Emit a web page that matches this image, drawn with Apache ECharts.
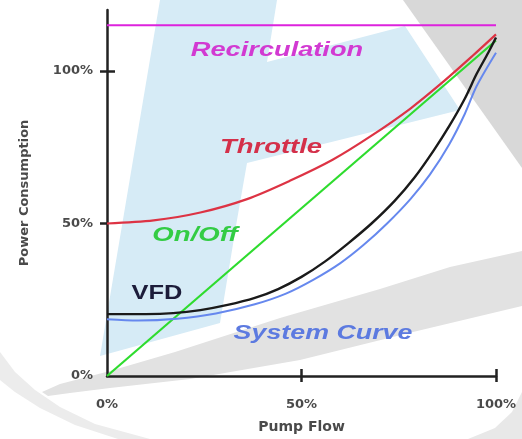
<!DOCTYPE html>
<html>
<head>
<meta charset="utf-8">
<script src="https://cdn.jsdelivr.net/npm/echarts@6/dist/echarts.min.js"></script>
<style>
html,body{margin:0;padding:0;background:#fff;}
#chart{width:522px;height:439px;}
</style>
</head>
<body>
<div id="chart"></div>
<script>
// ---- data (percent pump flow, percent power consumption) ----
const recirculation = [[0, 115], [100, 115]];
const throttle = [[0, 50], [12, 51], [24, 53.6], [36, 58], [47, 64], [58, 70.9], [68, 78.8], [78, 87.7], [86, 96], [94, 105], [100, 112]];
const onOff = [[0, 0], [100, 110]];
const vfd = [[0, 20.3], [10, 20.3], [17, 20.6], [24, 21.6], [31, 23.3], [38, 25.6], [44, 28.5], [50, 32.5], [56, 37.5], [62, 43.5], [68, 50], [74, 57.5], [79, 65], [84, 74], [88, 82], [92, 91], [95, 99], [98, 106], [100, 111]];
const systemCurve = [[0, 18.6], [8, 18.2], [18, 18.8], [28, 20.5], [38, 23.5], [46, 27], [53, 31.5], [60, 37], [66, 43], [72, 50], [78, 58], [83, 66], [88, 76], [92, 86], [95, 95], [100, 106]];
const xTicks = [0, 50, 100];
const yTicks = [0, 50, 100];
const seriesNames = ['Recirculation', 'Throttle', 'On/Off', 'VFD', 'System Curve'];

const chart = echarts.init(document.getElementById('chart'), null, {renderer: 'canvas'});
const labelFont = 'DejaVu Sans';
const pct = v => v + '%';

function note(text, x, y, color, sx, italic) {
  return {
    type: 'text', x: x, y: y, scaleX: sx, z: 50,
    style: {
      text: text, x: 0, y: 0, fill: color, align: 'center', verticalAlign: 'middle',
      font: (italic ? 'italic ' : '') + 'bold 20px "Liberation Sans", Arial, sans-serif'
    }
  };
}

const option = {
  animation: false,
  backgroundColor: '#ffffff',
  grid: {left: 107, right: 26, top: 10, bottom: 62},
  graphic: [
    {type: 'polygon', z: -10, shape: {points: [[160,0],[277,0],[267,62],[405,26],[460,110],[247,163],[237,220],[220,323],[100,356]]}, style: {fill: '#d6ebf6'}},
    {type: 'polygon', z: -10, shape: {points: [[403,0],[522,0],[522,168]]}, style: {fill: '#d8d8d8'}},
    {type: 'polygon', z: -10, shape: {points: [[42,392],[60,384],[110,371],[175,352],[280,318],[380,289],[450,267],[522,251],[522,306],[413,332],[300,360],[190,379],[110,388],[70,393],[48,396]]}, style: {fill: '#e2e2e2'}},
    {type: 'polygon', z: -10, shape: {points: [[0,352],[15,372],[35,390],[60,407],[95,424],[150,439],[118,439],[75,425],[40,408],[15,392],[0,380]]}, style: {fill: '#ececec'}},
    {type: 'polygon', z: -10, shape: {points: [[522,392],[512,412],[495,428],[468,439],[522,439]]}, style: {fill: '#e8e8e8'}},
    note(seriesNames[0], 277, 50, '#d23ad2', 1.36, true),
    note(seriesNames[1], 271, 147, '#d4304a', 1.37, true),
    note(seriesNames[2], 195, 235, '#33cc44', 1.38, true),
    note(seriesNames[3], 157, 293, '#1c1c3a', 1.27, false),
    note(seriesNames[4], 323, 333, '#5c7ae0', 1.34, true)
  ],
  xAxis: [{
    type: 'value', min: 0, max: 100, interval: 50, position: 'bottom',
    name: 'Pump Flow', nameLocation: 'middle', nameGap: 44,
    nameTextStyle: {fontFamily: labelFont, fontSize: 14, fontWeight: 'bold', color: '#4a4a4a'},
    axisLine: {show: true, lineStyle: {color: '#222', width: 2.5}},
    axisTick: {show: true, inside: false, length: 6, lineStyle: {color: '#222', width: 2.5}, customValues: [50, 100]},
    axisLabel: {margin: 22, fontFamily: labelFont, fontSize: 13, fontWeight: 'bold', color: '#4a4a4a', formatter: pct, customValues: xTicks},
    splitLine: {show: false}
  }, {
    type: 'value', min: 0, max: 100, interval: 50, position: 'bottom',
    axisLine: {show: false},
    axisTick: {show: true, inside: true, length: 7, lineStyle: {color: '#222', width: 2.5}, customValues: [50, 100]},
    axisLabel: {show: false},
    splitLine: {show: false}
  }],
  yAxis: [{
    type: 'value', min: 0, max: 120, interval: 50, position: 'left',
    name: 'Power Consumption', nameLocation: 'middle', nameGap: 76, nameRotate: 90,
    nameTextStyle: {fontFamily: labelFont, fontSize: 13, fontWeight: 'bold', color: '#4a4a4a'},
    axisLine: {show: true, lineStyle: {color: '#222', width: 2.5}},
    axisTick: {show: true, inside: false, length: 7, lineStyle: {color: '#222', width: 2.5}, customValues: [50, 100]},
    axisLabel: {margin: 14, fontFamily: labelFont, fontSize: 13, fontWeight: 'bold', color: '#4a4a4a', formatter: pct, customValues: yTicks},
    splitLine: {show: false}
  }, {
    type: 'value', min: 0, max: 120, interval: 50, position: 'left',
    axisLine: {show: false},
    axisTick: {show: true, inside: true, length: 8, lineStyle: {color: '#222', width: 2.5}, customValues: [100]},
    axisLabel: {show: false},
    splitLine: {show: false}
  }],
  series: [
    {name: seriesNames[0], type: 'line', data: recirculation, symbol: 'none', lineStyle: {color: '#dd22dd', width: 2}, z: 5},
    {name: seriesNames[2], type: 'line', data: onOff, symbol: 'none', lineStyle: {color: '#2edc2e', width: 2.2}, z: 6},
    {name: seriesNames[1], type: 'line', data: throttle, symbol: 'none', smooth: 0.3, lineStyle: {color: '#dd3344', width: 2.2}, z: 7},
    {name: seriesNames[4], type: 'line', data: systemCurve, symbol: 'none', smooth: 0.3, lineStyle: {color: '#6688ee', width: 2}, z: 6},
    {name: seriesNames[3], type: 'line', data: vfd, symbol: 'none', smooth: 0.3, lineStyle: {color: '#1a1a1a', width: 2.4}, z: 7}
  ]
};
chart.setOption(option);
</script>
</body>
</html>
